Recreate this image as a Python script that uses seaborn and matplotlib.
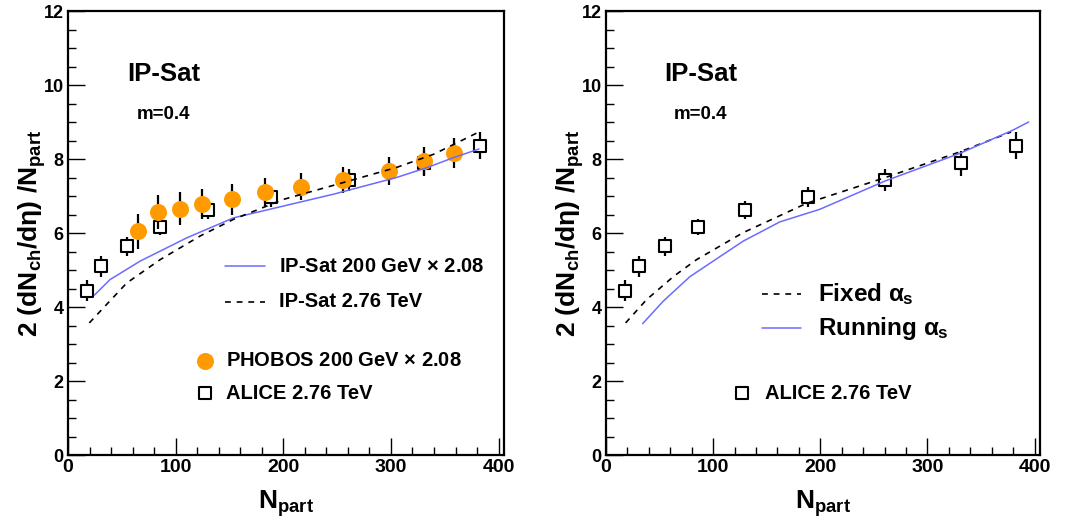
import numpy as np
import pandas as pd
import matplotlib
matplotlib.use("Agg")
import matplotlib.pyplot as plt
import seaborn as sns
from matplotlib.ticker import MultipleLocator

# ---------------- data ----------------
alice_npart = [17.4, 31.0, 54.6, 85.6, 130.0, 188.5, 260.6, 331.0, 383.0]
alice_val = [4.44, 5.10, 5.64, 6.16, 6.62, 6.96, 7.43, 7.88, 8.36]
alice_err = [0.28, 0.28, 0.25, 0.22, 0.25, 0.27, 0.3, 0.33, 0.36]

phobos_npart = [64.8, 83.4, 103.6, 124.4, 152.3, 183.3, 216.7, 255.9, 297.9, 330.5, 358.4]
phobos_val = [6.05, 6.57, 6.66, 6.79, 6.91, 7.12, 7.25, 7.43, 7.68, 7.95, 8.17]
phobos_err = [0.47, 0.45, 0.45, 0.4, 0.42, 0.38, 0.37, 0.36, 0.38, 0.38, 0.4]

ipsat200_x = [24.5, 39.0, 67.0, 110.4, 153.8, 200.3, 246.8, 305.1, 333.7, 358.4, 381.7]
ipsat200_y = [4.32, 4.74, 5.24, 5.87, 6.41, 6.73, 7.05, 7.50, 7.77, 8.04, 8.27]

ipsat276_x = [19.8, 54.6, 85.6, 122.8, 153.8, 200.3, 246.8, 305.0, 339.8, 381.7]
ipsat276_y = [3.57, 4.65, 5.28, 5.92, 6.37, 6.91, 7.29, 7.77, 8.13, 8.73]

fixed_x = [18.3, 37.9, 63.2, 84.5, 128.0, 187.0, 260.8, 330.0, 378.0]
fixed_y = [3.57, 4.20, 4.83, 5.28, 6.01, 6.80, 7.50, 8.19, 8.73]

running_x = [34.2, 53.5, 78.3, 100.0, 128.0, 162.2, 199.5, 260.8, 330.0, 379.7, 394.4]
running_y = [3.55, 4.16, 4.82, 5.24, 5.78, 6.30, 6.64, 7.41, 8.15, 8.78, 9.00]

x_ticks = [0, 100, 200, 300, 400]
y_ticks = [0, 2, 4, 6, 8, 10, 12]

# ---------------- style ----------------
sns.set_theme(style="white")
plt.rcParams["font.family"] = ["Liberation Sans", "DejaVu Sans"]
plt.rcParams["font.weight"] = "bold"
plt.rcParams["text.color"] = "black"
plt.rcParams["axes.labelcolor"] = "black"
plt.rcParams["xtick.color"] = "black"
plt.rcParams["ytick.color"] = "black"
plt.rcParams["mathtext.fontset"] = "custom"
plt.rcParams["mathtext.rm"] = "Liberation Sans:bold"
plt.rcParams["mathtext.bf"] = "Liberation Sans:bold"
plt.rcParams["mathtext.it"] = "Liberation Sans"
plt.rcParams["mathtext.sf"] = "Liberation Sans:bold"

BLUE = "#6b6bff"
ORANGE = "#ff9a00"
DASH = (0, (3.5, 3.5))

fig = plt.figure(figsize=(10.71, 5.29), dpi=100)
W, H = 1071, 529
axL = fig.add_axes([68 / W, (H - 455) / H, 436 / W, 444 / H])
axR = fig.add_axes([606 / W, (H - 455) / H, 434 / W, 444 / H])

ylabel = r"2 (dN$_{\rm ch}$/d$\eta$) /N$_{\rm part}$"


def style_axis(ax):
    ax.set_xlim(0, 405)
    ax.set_ylim(0, 12)
    ax.set_xticks(x_ticks)
    ax.set_yticks(y_ticks)
    ax.xaxis.set_minor_locator(MultipleLocator(20))
    ax.yaxis.set_minor_locator(MultipleLocator(0.5))
    ax.tick_params(which="major", direction="in", length=12, width=1.0,
                   color="black", left=True, bottom=True,
                   top=False, right=False, pad=3)
    ax.tick_params(axis="x", which="major", labelsize=14)
    ax.tick_params(axis="y", which="major", labelsize=13)
    ax.tick_params(which="minor", direction="in", length=6, width=1.0,
                   color="black", left=True, bottom=True, top=False, right=False)
    for lab in ax.get_xticklabels() + ax.get_yticklabels():
        lab.set_fontweight("bold")
        lab.set_color("black")
    for s in ax.spines.values():
        s.set_color("black")
        s.set_linewidth(1.6)
    ax.set_xlabel(r"N$_{\rm part}$", fontsize=19, fontweight="bold", color="black")
    ax.set_ylabel(ylabel, fontsize=19, fontweight="bold", color="black")
    ax.xaxis.set_label_coords(0.5, -0.075)
    ax.yaxis.set_label_coords(-0.045, 0.5)
    ax.set_facecolor("white")
    ax.grid(False)


def alice(ax):
    ax.errorbar(alice_npart, alice_val, yerr=alice_err, fmt="none",
                ecolor="black", elinewidth=1.6, zorder=3)
    sns.scatterplot(x=alice_npart, y=alice_val, ax=ax, marker="s", s=80,
                    facecolor="white", edgecolor="black", linewidth=1.5,
                    zorder=4)


# ---------------- left panel ----------------
style_axis(axL)
alice(axL)
axL.errorbar(phobos_npart, phobos_val, yerr=phobos_err, fmt="none",
             ecolor="black", elinewidth=1.6, zorder=5)
sns.scatterplot(x=phobos_npart, y=phobos_val, ax=axL, marker="o", s=150,
                color=ORANGE, edgecolor=ORANGE, linewidth=0, zorder=6)
sns.lineplot(x=ipsat200_x, y=ipsat200_y, ax=axL, color=BLUE, lw=1.1,
             sort=False, estimator=None, zorder=7)
sns.lineplot(x=ipsat276_x, y=ipsat276_y, ax=axL, color="black", lw=1.2,
             sort=False, estimator=None, zorder=7, linestyle=DASH)

axL.text(55, 10.3, "IP-Sat", fontsize=18.5, fontweight="bold", va="center")
axL.text(64, 9.2, "m=0.4", fontsize=13.5, fontweight="bold", va="center")

# legend-like entries drawn in data coordinates
axL.plot([146, 183], [5.1, 5.1], color=BLUE, lw=1.1)
axL.text(196, 5.1, r"IP-Sat 200 GeV $\times$ 2.08", fontsize=14.5,
         fontweight="bold", va="center")
axL.plot([146, 183], [4.14, 4.14], color="black", lw=1.2, linestyle=DASH)
axL.text(196, 4.14, "IP-Sat 2.76 TeV", fontsize=14.5, fontweight="bold",
         va="center")
axL.scatter([127], [2.55], s=150, color=ORANGE, linewidths=0)
axL.text(147, 2.55, r"PHOBOS 200 GeV $\times$ 2.08", fontsize=14.5,
         fontweight="bold", va="center")
axL.scatter([127], [1.67], s=80, marker="s", facecolor="white",
            edgecolor="black", linewidths=1.5)
axL.text(147, 1.67, "ALICE 2.76 TeV", fontsize=14.5, fontweight="bold",
         va="center")

# ---------------- right panel ----------------
style_axis(axR)
alice(axR)
sns.lineplot(x=fixed_x, y=fixed_y, ax=axR, color="black", lw=1.2,
             sort=False, estimator=None, zorder=7, linestyle=DASH)
sns.lineplot(x=running_x, y=running_y, ax=axR, color=BLUE, lw=1.1,
             sort=False, estimator=None, zorder=7)

axR.text(54, 10.3, "IP-Sat", fontsize=18.5, fontweight="bold", va="center")
axR.text(63, 9.2, "m=0.4", fontsize=13.5, fontweight="bold", va="center")

axR.plot([146, 182], [4.35, 4.35], color="black", lw=1.2, linestyle=DASH)
axR.text(198, 4.35, r"Fixed $\alpha_{\rm s}$", fontsize=17.5,
         fontweight="bold", va="center")
axR.plot([146, 182], [3.42, 3.42], color=BLUE, lw=1.1)
axR.text(198, 3.42, r"Running $\alpha_{\rm s}$", fontsize=17.5,
         fontweight="bold", va="center")
axR.scatter([127], [1.67], s=80, marker="s", facecolor="white",
            edgecolor="black", linewidths=1.5)
axR.text(148, 1.67, "ALICE 2.76 TeV", fontsize=14.5, fontweight="bold",
         va="center")

for ax in (axL, axR):
    leg = ax.get_legend()
    if leg is not None:
        leg.remove()

fig.savefig("out.png", dpi=100, facecolor="white")
